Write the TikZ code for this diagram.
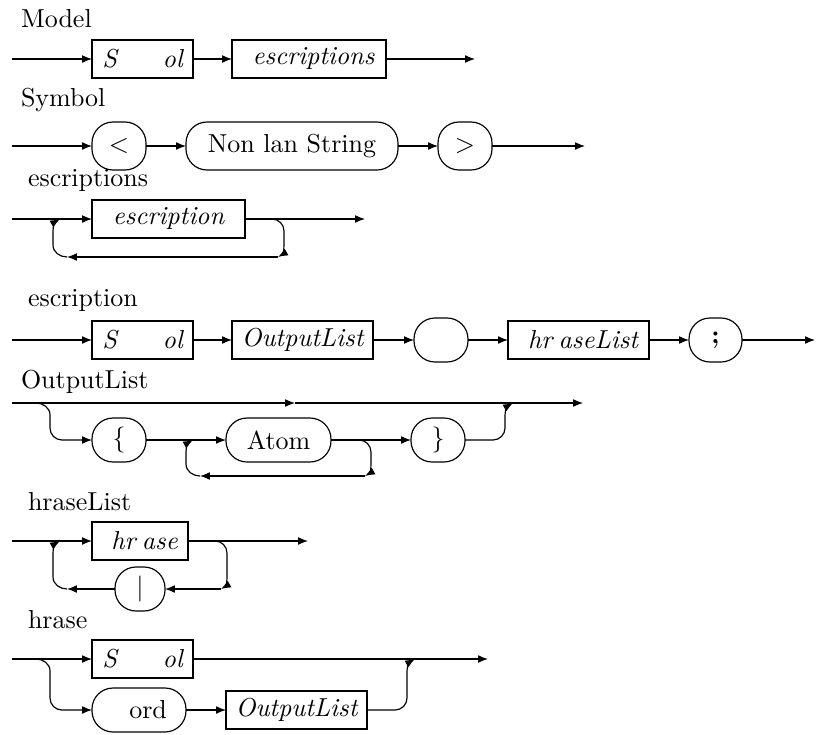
\documentclass[tikz,border=0pt]{standalone}
\usetikzlibrary{arrows.meta}
\begin{document}
\begin{tikzpicture}[
  x=0.385pt, y=0.385pt,
  every node/.style={inner sep=0pt, outer sep=0pt},
  rule/.style={anchor=base west},
  nonterm/.style={draw, rectangle, line width=0.45pt, minimum height=14.63pt, font=\itshape},
  term/.style={draw, rectangle, rounded corners=8.1pt, line width=0.45pt, minimum height=16.94pt},
  wd/.style={minimum width=#1*0.385pt},
  ht/.style={minimum height=#1*0.385pt},
  wire/.style={line width=0.45pt},
  flow/.style={wire, -{Latex[length=3.8pt,width=3pt]}},
]
\useasboundingbox (0,0) rectangle (816,-734);

% ---- Model
\node[rule] (lModel) at (21,-27) {Model};
\coordinate (m0) at (12,-59);
\node[nonterm, wd=101] (mSym) at (142.5,-59) {S\hphantom{ymb}ol};
\node[nonterm, wd=154] (mDesc) at (309,-59) {\hspace*{3.5pt}escriptions};
\coordinate (m9) at (475,-59);
\draw[flow] (m0) -- (mSym);
\draw[flow] (mSym) -- (mDesc);
\draw[flow] (mDesc) -- (m9);

% ---- Symbol
\node[rule] (lSymbol) at (21,-106) {Symbol};
\coordinate (s0) at (12,-146);
\node[term, wd=54, ht=48] (sLt) at (119,-146) {$<$};
\node[term, wd=212, ht=48] (sStr) at (292,-146) {Non lan String};
\node[term, wd=54, ht=48] (sGt) at (465,-146) {$>$};
\coordinate (s9) at (585,-146);
\draw[flow] (s0) -- (sLt);
\draw[flow] (sLt) -- (sStr);
\draw[flow] (sStr) -- (sGt);
\draw[flow] (sGt) -- (s9);

% ---- escriptions
\node[rule] (lDescs) at (28,-186) {escriptions};
\coordinate (d0) at (12,-219);
\node[nonterm, wd=153] (dDesc) at (168.5,-219) {escription};
\coordinate (d9) at (365,-219);
\coordinate (dA) at (272,-219);
\coordinate (dB) at (284,-231);
\coordinate (dC) at (284,-245);
\coordinate (dD) at (278,-257);
\coordinate (dE) at (67,-257);
\coordinate (dF) at (53,-245);
\coordinate (dG) at (53,-231);
\coordinate (dH) at (60,-219);
\draw[flow] (d0) -- (dDesc);
\draw[flow] (dDesc) -- (d9);
\draw[flow] (dDesc.east) -- (dA) to[out=0,in=90] (dB) -- (dC) to[out=-90,in=30] (dD);
\draw[flow] (dD) -- (dE);
\draw[flow] (dE) to[out=180,in=-90] (dF) -- (dG) to[out=90,in=210] (dH);

% ---- escription
\node[rule] (lDesc) at (28,-306) {escription};
\coordinate (e0) at (12,-340);
\node[nonterm, wd=101] (eSym) at (142.5,-340) {S\hphantom{ymb}ol};
\node[nonterm, wd=141] (eOut) at (302.5,-340) {OutputList};
\node[term, wd=54] (eSep) at (441,-340) {};
\node[nonterm, wd=141] (ePhr) at (578.5,-340) {\hspace*{3.5pt}hr\hspace{2.5pt}aseList};
\node[term, wd=53] (eSemi) at (715.5,-340) {\textbf{;}};
\coordinate (e9) at (815,-340);
\draw[flow] (e0) -- (eSym);
\draw[flow] (eSym) -- (eOut);
\draw[flow] (eOut) -- (eSep);
\draw[flow] (eSep) -- (ePhr);
\draw[flow] (ePhr) -- (eSemi);
\draw[flow] (eSemi) -- (e9);

% ---- OutputList
\node[rule] (lOut) at (21,-388) {OutputList};
\coordinate (o0) at (12,-403);
\coordinate (oMid) at (295,-403);
\coordinate (o9) at (583,-403);
\node[term, wd=54] (oOpen) at (119,-440) {$\{$};
\node[term, wd=105] (oAtom) at (278.5,-440) {Atom};
\node[term, wd=54] (oClose) at (438,-440) {$\}$};
\coordinate (oS1) at (36,-403);
\coordinate (oS2) at (50,-415);
\coordinate (oS3) at (50,-428);
\coordinate (oS4) at (62,-440);
\coordinate (oA) at (359,-440);
\coordinate (oB) at (371,-452);
\coordinate (oC) at (371,-464);
\coordinate (oD) at (365,-476);
\coordinate (oE) at (200,-476);
\coordinate (oF) at (186,-464);
\coordinate (oG) at (186,-452);
\coordinate (oH) at (193,-440);
\coordinate (oJ1) at (493,-440);
\coordinate (oJ2) at (505,-428);
\coordinate (oJ3) at (505,-415);
\coordinate (oJ4) at (513,-403);
\draw[flow] (o0) -- (oMid);
\draw[flow] (oMid) -- (o9);
\draw[flow] (oS1) to[out=0,in=90] (oS2) -- (oS3) to[out=-90,in=180] (oS4) -- (oOpen);
\draw[flow] (oOpen) -- (oAtom);
\draw[flow] (oAtom) -- (oClose);
\draw[flow] (oAtom.east) -- (oA) to[out=0,in=90] (oB) -- (oC) to[out=-90,in=30] (oD);
\draw[flow] (oD) -- (oE);
\draw[flow] (oE) to[out=180,in=-90] (oF) -- (oG) to[out=90,in=210] (oH);
\draw[flow] (oClose.east) -- (oJ1) to[out=0,in=-90] (oJ2) -- (oJ3) to[out=90,in=210] (oJ4);

% ---- hraseList
\node[rule] (lPhrL) at (28,-510) {hraseList};
\coordinate (p0) at (12,-541);
\node[nonterm, wd=96] (pPhr) at (140,-541) {\hspace*{3.5pt}hr\hspace{2.5pt}ase};
\coordinate (p9) at (308,-541);
\node[term, wd=50] (pBar) at (140,-589) {$|$};
\coordinate (pA) at (215,-541);
\coordinate (pB) at (227,-553);
\coordinate (pC) at (227,-577);
\coordinate (pD) at (221,-589);
\coordinate (pE) at (67,-589);
\coordinate (pF) at (53,-577);
\coordinate (pG) at (53,-553);
\coordinate (pH) at (60,-541);
\draw[flow] (p0) -- (pPhr);
\draw[flow] (pPhr) -- (p9);
\draw[flow] (pPhr.east) -- (pA) to[out=0,in=90] (pB) -- (pC) to[out=-90,in=30] (pD);
\draw[flow] (pD) -- (pBar);
\draw[flow] (pBar) -- (pE);
\draw[flow] (pE) to[out=180,in=-90] (pF) -- (pG) to[out=90,in=210] (pH);

% ---- hrase
\node[rule] (lPhr) at (28,-628) {hrase};
\coordinate (h0) at (12,-659);
\node[nonterm, wd=101] (hSym) at (142.5,-659) {S\hphantom{ymb}ol};
\coordinate (h9) at (488,-659);
\node[term, wd=94] (hWord) at (139,-710) {\hspace*{7pt}ord};
\node[nonterm, wd=141] (hOut) at (296.5,-710) {OutputList};
\coordinate (hS1) at (36,-659);
\coordinate (hS2) at (50,-671);
\coordinate (hS3) at (50,-698);
\coordinate (hS4) at (62,-710);
\coordinate (hJ1) at (395,-710);
\coordinate (hJ2) at (407,-698);
\coordinate (hJ3) at (407,-671);
\coordinate (hJ4) at (415,-659);
\draw[flow] (h0) -- (hSym);
\draw[flow] (hSym) -- (h9);
\draw[flow] (hS1) to[out=0,in=90] (hS2) -- (hS3) to[out=-90,in=180] (hS4) -- (hWord);
\draw[flow] (hWord) -- (hOut);
\draw[flow] (hOut.east) -- (hJ1) to[out=0,in=-90] (hJ2) -- (hJ3) to[out=90,in=210] (hJ4);
\end{tikzpicture}
\end{document}
